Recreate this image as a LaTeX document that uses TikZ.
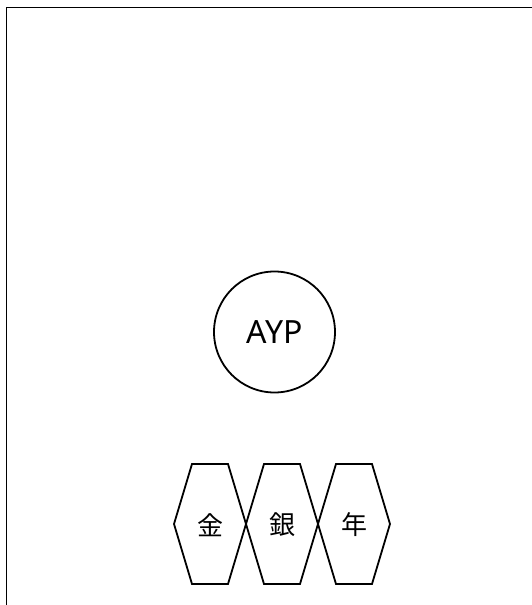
\documentclass[tikz,border=0pt]{standalone}
\usepackage{fontspec}
\setmainfont{Noto Sans}
\newfontfamily\cjk{Noto Sans CJK JP}

\begin{document}
\begin{tikzpicture}[x=1pt, y=-1pt, line width=1.8pt,
    hexcell/.style={inner sep=0pt, font=\cjk\fontsize{26}{26}\selectfont}]
    \useasboundingbox (0,0) rectangle (531,605);
    % frame, cut off at right and bottom
    \draw (6.5,7.5) rectangle (580,650);
    \node[draw, circle, minimum size=121pt, inner sep=0pt, font=\fontsize{32}{32}\selectfont] (ayp) at (274.5,332) {AYP};
    \foreach \cx/\name/\txt in {210/kin/金, 282/gin/銀, 354/nen/年} {
      \draw (\cx-36,524) -- (\cx-18,464) -- (\cx+18,464) -- (\cx+36,524) -- (\cx+18,584) -- (\cx-18,584) -- cycle;
      \node[hexcell] (\name) at (\cx,525) {\txt};
    }
  \end{tikzpicture}
\end{document}
